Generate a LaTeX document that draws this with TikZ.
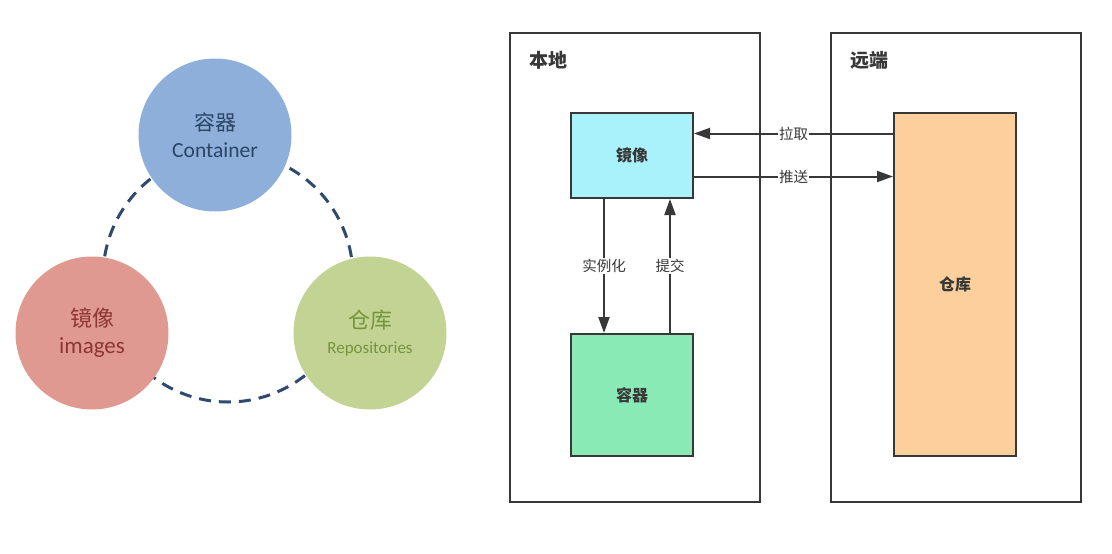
\documentclass[tikz,border=0pt]{standalone}
\usepackage{fontspec}
\setmainfont{Carlito}
\newfontfamily\cjk{Noto Sans CJK SC}
\usetikzlibrary{arrows.meta, positioning}
\definecolor{ringline}{HTML}{2E4A6E}
\definecolor{ctrfill}{HTML}{8DAFD9}
\definecolor{imgfill}{HTML}{DF9990}
\definecolor{repofill}{HTML}{C2D394}
\definecolor{ctrtext}{HTML}{2A4565}
\definecolor{imgtext}{HTML}{8E3535}
\definecolor{repotext}{HTML}{76953A}
\definecolor{imgbox}{HTML}{AAF2FB}
\definecolor{ctrbox}{HTML}{8AEAB5}
\definecolor{repobox}{HTML}{FCCF9D}
\definecolor{edge}{HTML}{383838}

\begin{document}
\begin{tikzpicture}[x=1pt, y=-1pt,
    circ/.style={circle, minimum size=153pt, inner sep=0pt, align=center, font=\fontsize{21}{26}\selectfont},
    frame/.style={draw=edge, line width=2pt, rectangle, inner sep=0pt},
    box/.style={draw=edge, line width=2pt, rectangle, inner sep=0pt, font=\cjk\bfseries\fontsize{16}{19}\selectfont, text=edge},
    arr/.style={draw=edge, line width=2pt, -{Triangle[length=16pt, width=11pt]}},
    lbl/.style={fill=white, inner sep=1pt, text=edge, font=\cjk\fontsize{14.5}{17}\selectfont}]
    \useasboundingbox (0,0) rectangle (1112,554);
    \draw[ringline, line width=3pt, dash pattern=on 12pt off 8pt] (228,277) circle (125pt);
    \node[circ, fill=ctrfill, text=ctrtext] (ctr) at (215,135)
        {{\cjk\fontsize{21}{25}\selectfont 容器}\\[1pt]{\fontsize{21.5}{25}\selectfont Container}};
    \node[circ, fill=imgfill, text=imgtext] (img) at (92,333)
        {{\cjk\fontsize{22}{26}\selectfont 镜像}\\[1pt]{\fontsize{23}{26}\selectfont images}};
    \node[circ, fill=repofill, text=repotext] (repo) at (370,333)
        {{\cjk\fontsize{22}{26}\selectfont 仓库}\\[-1pt]{\fontsize{17}{20}\selectfont Repositories}};

    \node[frame, minimum width=250pt, minimum height=469pt] (local) at (635,267.5) {};
    \node[frame, minimum width=250pt, minimum height=469pt] (remote) at (956,267.5) {};
    \node[anchor=west, text=edge, font=\cjk\bfseries\fontsize{19}{22}\selectfont] (locallbl) at (526,60) {本地};
    \node[anchor=west, text=edge, font=\cjk\bfseries\fontsize{19}{22}\selectfont] (remotelbl) at (847,60) {远端};

    \node[box, fill=imgbox, minimum width=122pt, minimum height=85pt] (imgb) at (632,155.5) {镜像};
    \node[box, fill=ctrbox, minimum width=122pt, minimum height=122pt] (ctrb) at (632,395) {容器};
    \node[box, fill=repobox, minimum width=122pt, minimum height=343pt] (repob) at (955,284.5) {仓库};

    \coordinate (pull) at ([yshift=22pt]imgb.east);
    \coordinate (push) at ([yshift=-21pt]imgb.east);
    \coordinate (inst) at ([xshift=-28pt]imgb.south);
    \coordinate (commit) at ([xshift=38pt]ctrb.north);
    \draw[arr] (pull -| repob.west) -- (pull) node[midway, lbl] {拉取};
    \draw[arr] (push) -- (push -| repob.west) node[midway, lbl] {推送};
    \draw[arr] (inst) -- (inst |- ctrb.north) node[midway, lbl] {实例化};
    \draw[arr] (commit) -- (commit |- imgb.south) node[midway, lbl] {提交};
\end{tikzpicture}
\end{document}
